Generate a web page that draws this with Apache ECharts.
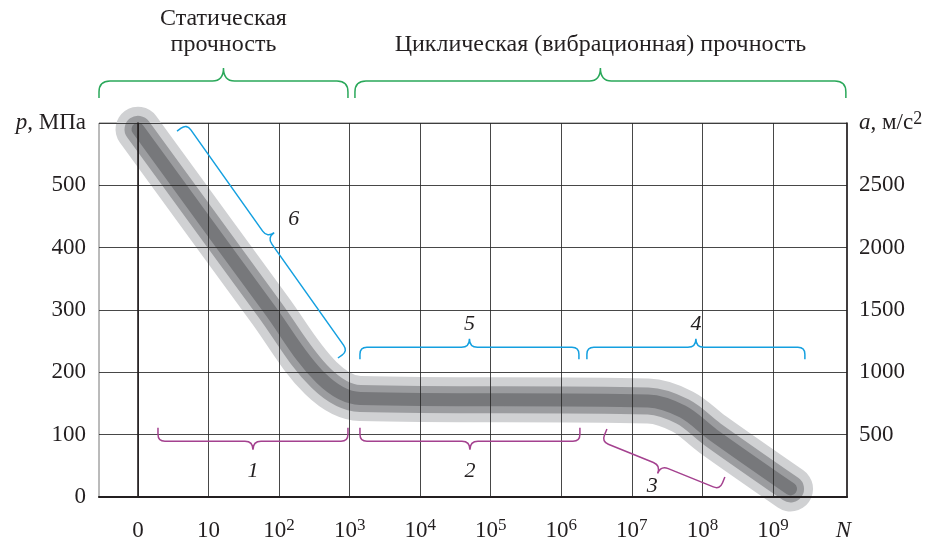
<!DOCTYPE html>
<html>
<head>
<meta charset="utf-8">
<script src="https://cdn.jsdelivr.net/npm/echarts@6/dist/echarts.min.js"></script>
<style>
html,body{margin:0;padding:0;background:#fff;}
#chart{width:929px;height:542px;}
</style>
</head>
<body>
<div id="chart"></div>
<script>
// ---- data ----
// x positions are log10(N) slots: 0 -> "0", 1 -> "10", 2 -> "10^2", ... 9 -> "10^9", 10 -> "N"
const xTickValues = [0, 1, 2, 3, 4, 5, 6, 7, 8, 9, 10];
const xTickBase = ['0', '10', '10', '10', '10', '10', '10', '10', '10', '10', 'N'];
const xTickExp = ['', '', '2', '3', '4', '5', '6', '7', '8', '9', ''];
const pTicks = [0, 100, 200, 300, 400, 500, 600];
const aTicks = [0, 500, 1000, 1500, 2000, 2500, 3000];
const pAxisName = 'p, МПа';
const aAxisName = 'a, м/с';

// strength curve (p, MPa vs N slot)
const curveN = [0, 1.87, 2.59, 3.15, 7.23, 7.72, 8.15, 9.25];
const curveP = [590, 300, 191, 158, 154, 137, 100, 13];

// brace annotations (end points in data units) and their texts
const braceText = ['Статическая\nпрочность', 'Циклическая (вибрационная) прочность', '6', '5', '4', '1', '2', '3'];
const braceStart = [[-0.553, 640], [3.075, 640], [0.553, 587], [3.146, 221], [6.363, 221], [0.283, 111], [3.146, 111], [6.647, 109]];
const braceEnd = [[2.976, 640], [10.034, 640], [2.834, 223], [6.25, 221], [9.453, 221], [2.976, 111], [6.264, 111], [8.319, 32]];
const braceSide = [1, 1, 1, 1, 1, -1, -1, -1];

// ---- styles ----
const FONT = '"Liberation Serif", "Times New Roman", serif';
const TXT = '#231f20';
const braceKind = ['green', 'green', 'cyan', 'cyan', 'cyan', 'mag', 'mag', 'mag'];
const braceLabelGap = [36, 23, 24, 15, 15, 21, 21, 14];
const braceStyles = {
  green: { color: '#2aa85a', h: 17, t: 13, r: 11, w: 11, font: '24px ' + FONT, lh: 26 },
  cyan:  { color: '#14a0e0', h: 12, t: 8.5, r: 7, w: 8, font: 'italic 22px ' + FONT, lh: 22 },
  mag:   { color: '#a4418f', h: 13.5, t: 8.5, r: 7, w: 8, font: 'italic 22px ' + FONT, lh: 22 }
};

const curveData = curveN.map((n, i) => [n, curveP[i]]);
const braceData = braceStart.map((s, i) => [s[0], s[1], braceEnd[i][0], braceEnd[i][1]]);

function renderBrace(params, api) {
  const i = params.dataIndex;
  const a = api.coord([api.value(0), api.value(1)]);
  const b = api.coord([api.value(2), api.value(3)]);
  const st = braceStyles[braceKind[i]];
  const dx = b[0] - a[0], dy = b[1] - a[1];
  const L = Math.hypot(dx, dy);
  const ux = dx / L, uy = dy / L;
  const sd = braceSide[i];
  const nx = uy * sd, ny = -ux * sd;
  const P = (u, v) => (a[0] + ux * u + nx * v).toFixed(2) + ' ' + (a[1] + uy * u + ny * v).toFixed(2);
  const h = st.h, t = st.t, r = st.r, w = st.w, m = L / 2;
  const d = 'M' + P(0, 0) + ' L' + P(0, h - r) + ' Q' + P(0, h) + ' ' + P(r, h) +
    ' L' + P(m - w, h) + ' Q' + P(m, h) + ' ' + P(m, h + t) +
    ' Q' + P(m, h) + ' ' + P(m + w, h) + ' L' + P(L - r, h) +
    ' Q' + P(L, h) + ' ' + P(L, h - r) + ' L' + P(L, 0);
  const g = braceLabelGap[i];
  const lx = a[0] + ux * m + nx * (h + t + g);
  const ly = a[1] + uy * m + ny * (h + t + g);
  return {
    type: 'group',
    children: [
      { type: 'path', shape: { pathData: d }, style: { stroke: st.color, fill: null, lineWidth: 1.5 } },
      { type: 'text', style: { text: braceText[i], x: lx, y: ly, align: 'center', verticalAlign: 'middle',
          font: st.font, lineHeight: st.lh, fill: TXT } }
    ]
  };
}

const chart = echarts.init(document.getElementById('chart'), null, { renderer: 'canvas' });
const bandBase = { type: 'line', data: curveData, symbol: 'none', smooth: 0.35, clip: false, silent: true,
  animation: false };

chart.setOption({
  animation: false,
  backgroundColor: '#fff',
  grid: { left: 99, right: 82, top: 123, bottom: 45, containLabel: false, outerBoundsMode: 'none',
    show: true, borderColor: '#777', borderWidth: 1 },
  xAxis: {
    type: 'value', min: -0.553, max: 10.05, z: 3,
    axisLine: { show: true, lineStyle: { color: TXT, width: 2.2 } },
    axisTick: { show: false, customValues: xTickValues },
    splitLine: { show: false },
    axisLabel: {
      customValues: xTickValues, margin: 20, color: TXT, fontFamily: FONT, fontSize: 23,
      formatter: function (v) {
        const k = Math.round(v);
        if (xTickBase[k] === 'N') return '{it|N}';
        return '{b|' + xTickBase[k] + '}' + (xTickExp[k] ? '{s|' + xTickExp[k] + '}' : '');
      },
      rich: {
        b: { fontFamily: FONT, fontSize: 23, color: TXT, lineHeight: 27 },
        s: { fontFamily: FONT, fontSize: 17, color: TXT, verticalAlign: 'top', lineHeight: 27 },
        it: { fontFamily: FONT, fontSize: 23, fontStyle: 'italic', color: TXT, lineHeight: 27 }
      }
    }
  },
  yAxis: [
    {
      type: 'value', min: pTicks[0], max: pTicks[pTicks.length - 1], interval: 100, position: 'left', z: 3,
      axisLine: { show: true, lineStyle: { color: TXT, width: 1.6 } },
      axisTick: { show: false },
      splitLine: { show: true, lineStyle: { color: 'rgba(40,40,40,0.85)', width: 1 } },
      axisLabel: {
        margin: 13, color: TXT, fontFamily: FONT, fontSize: 23,
        formatter: function (v) {
          if (v === pTicks[pTicks.length - 1]) return '{i|' + pAxisName.slice(0, 1) + '}{n|' + pAxisName.slice(1) + '}';
          return '{n|' + v + '}';
        },
        rich: {
          i: { fontFamily: FONT, fontSize: 23, fontStyle: 'italic', color: TXT },
          n: { fontFamily: FONT, fontSize: 23, color: TXT }
        }
      }
    },
    {
      type: 'value', min: aTicks[0], max: aTicks[aTicks.length - 1], interval: 500, position: 'right', z: 3,
      axisLine: { show: true, lineStyle: { color: TXT, width: 1.6 } },
      axisTick: { show: false },
      splitLine: { show: false },
      axisLabel: {
        margin: 12, color: TXT, fontFamily: FONT, fontSize: 23,
        formatter: function (v) {
          if (v === aTicks[0]) return '';
          if (v === aTicks[aTicks.length - 1]) return '{i|' + aAxisName.slice(0, 1) + '}{n|' + aAxisName.slice(1) + '}{s|2}';
          return '{n|' + v + '}';
        },
        rich: {
          i: { fontFamily: FONT, fontSize: 23, fontStyle: 'italic', color: TXT, lineHeight: 26 },
          n: { fontFamily: FONT, fontSize: 23, color: TXT, lineHeight: 26 },
          s: { fontFamily: FONT, fontSize: 18, color: TXT, verticalAlign: 'top', lineHeight: 26 }
        }
      }
    }
  ],
  series: [
    Object.assign({}, bandBase, { z: 2, lineStyle: { color: '#d0d1d3', width: 45, cap: 'round', join: 'round' },
      markLine: {
        silent: true, symbol: 'none', z: 3, animation: false,
        label: { show: false },
        lineStyle: { color: 'rgba(40,40,40,0.85)', width: 1, type: 'solid' },
        data: xTickValues.slice(0, 10).map(v => ({ xAxis: v }))
      } }),
    Object.assign({}, bandBase, { z: 2, lineStyle: { color: '#9b9c9f', width: 27, cap: 'round', join: 'round' } }),
    Object.assign({}, bandBase, { z: 2, lineStyle: { color: '#77787b', width: 13, cap: 'round', join: 'round' } }),
    {
      type: 'custom', data: braceData, renderItem: renderBrace, clip: false, silent: true, z: 4,
      encode: { x: [0, 2], y: [1, 3] }
    }
  ]
});
</script>
</body>
</html>
